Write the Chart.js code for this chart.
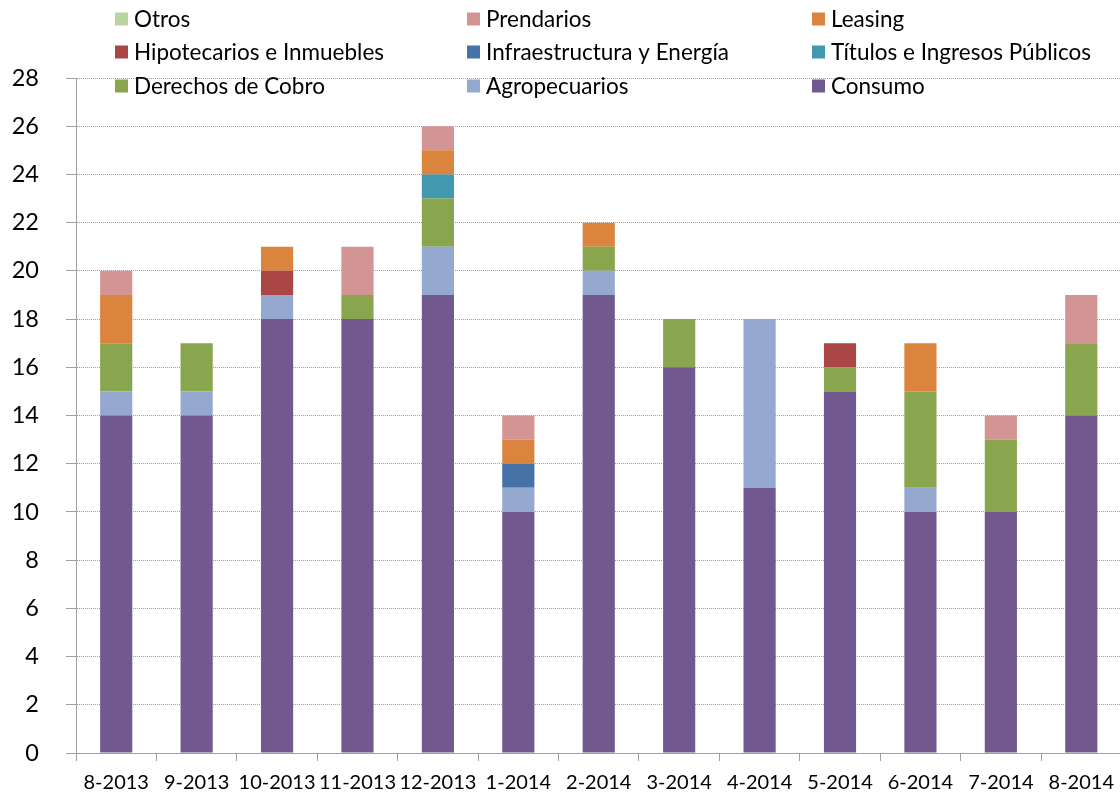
<!DOCTYPE html>
<html>
<head>
<meta charset="utf-8">
<script src="https://cdn.jsdelivr.net/npm/chart.js@4/dist/chart.umd.min.js"></script>
<style>
html,body{margin:0;padding:0;background:#fff;overflow:hidden;}
#wrap{width:1124px;height:799px;}
</style>
</head>
<body>
<div id="wrap"><canvas id="c" width="1124" height="799"></canvas></div>
<script>
const categories = ['8-2013','9-2013','10-2013','11-2013','12-2013','1-2014','2-2014','3-2014','4-2014','5-2014','6-2014','7-2014','8-2014'];
const consumo        = [14,14,18,18,19,10,19,16,11,15,10,10,14];
const agropecuarios  = [1, 1, 1, 0, 2, 1, 1, 0, 7, 0, 1, 0, 0];
const derechosCobro  = [2, 2, 0, 1, 2, 0, 1, 2, 0, 1, 4, 3, 3];
const titulos        = [0, 0, 0, 0, 1, 0, 0, 0, 0, 0, 0, 0, 0];
const infraestructura= [0, 0, 0, 0, 0, 1, 0, 0, 0, 0, 0, 0, 0];
const hipotecarios   = [0, 0, 1, 0, 0, 0, 0, 0, 0, 1, 0, 0, 0];
const leasing        = [2, 0, 1, 0, 1, 1, 1, 0, 0, 0, 2, 0, 0];
const prendarios     = [1, 0, 0, 2, 1, 1, 0, 0, 0, 0, 0, 1, 2];
const otros          = [0, 0, 0, 0, 0, 0, 0, 0, 0, 0, 0, 0, 0];
const yTicks = [0,2,4,6,8,10,12,14,16,18,20,22,24,26,28];

const seriesNames = ['Consumo','Agropecuarios','Derechos de Cobro','Títulos e Ingresos Públicos','Infraestructura y Energía','Hipotecarios e Inmuebles','Leasing','Prendarios','Otros'];
const seriesData = [consumo,agropecuarios,derechosCobro,titulos,infraestructura,hipotecarios,leasing,prendarios,otros];
const seriesColors = ['#71588F','#95A9D0','#89A54E','#4198AF','#4572A7','#AA4643','#DB843D','#D39594','#B9D49C'];

// legend layout (order as displayed, row by row)
const legendOrder = ['Otros','Prendarios','Leasing','Hipotecarios e Inmuebles','Infraestructura y Energía','Títulos e Ingresos Públicos','Derechos de Cobro','Agropecuarios','Consumo'];
const legendCols = [115, 467, 812];
const legendRows = [19, 52, 86];

const FONT = 'Lato, "Open Sans", sans-serif';

const legendPlugin = {
  id: 'customLegend',
  afterDraw(chart) {
    const ctx = chart.ctx;
    ctx.save();
    ctx.font = '22.5px ' + FONT;
    ctx.textBaseline = 'middle';
    ctx.textAlign = 'left';
    legendOrder.forEach((name, i) => {
      const ds = chart.data.datasets.find(d => d.label === name);
      const x = legendCols[i % 3];
      const y = legendRows[Math.floor(i / 3)];
      ctx.fillStyle = ds.backgroundColor;
      ctx.fillRect(x, y - 6.5, 13, 13);
      ctx.fillStyle = '#000';
      ctx.fillText(name, x + 19, y + 1);
    });
    ctx.restore();
  }
};

new Chart(document.getElementById('c'), {
  type: 'bar',
  data: {
    labels: categories,
    datasets: seriesNames.map((n, i) => ({
      label: n,
      data: seriesData[i],
      backgroundColor: seriesColors[i],
      borderWidth: 0,
      barPercentage: 0.4,
      categoryPercentage: 1.0
    }))
  },
  options: {
    responsive: false,
    animation: false,
    layout: { padding: { top: 78, right: 0, left: 0, bottom: 0 } },
    plugins: { legend: { display: false }, tooltip: { enabled: false } },
    scales: {
      x: {
        stacked: true,
        grid: { offset: true, drawOnChartArea: false, drawTicks: true, tickLength: 8, color: '#A0A0A0' },
        border: { display: true, color: '#A0A0A0', width: 1 },
        ticks: { color: '#000', font: { family: FONT, size: 20 }, padding: 10, maxRotation: 0, autoSkip: false },
        afterFit(scale) { scale.height = 46; }
      },
      y: {
        stacked: true,
        min: 0, max: 28,
        afterBuildTicks(scale) { scale.ticks = yTicks.map(v => ({ value: v })); },
        grid: { color: '#A0A0A0', tickLength: 10, tickColor: '#A0A0A0', tickBorderDash: [] },
        border: { display: true, color: '#A0A0A0', width: 1, dash: [1, 1] },
        ticks: { color: '#000', font: { family: FONT, size: 23.5 }, padding: 27 },
        afterFit(scale) { scale.width = 76; }
      }
    }
  },
  plugins: [legendPlugin]
});
</script>
</body>
</html>
